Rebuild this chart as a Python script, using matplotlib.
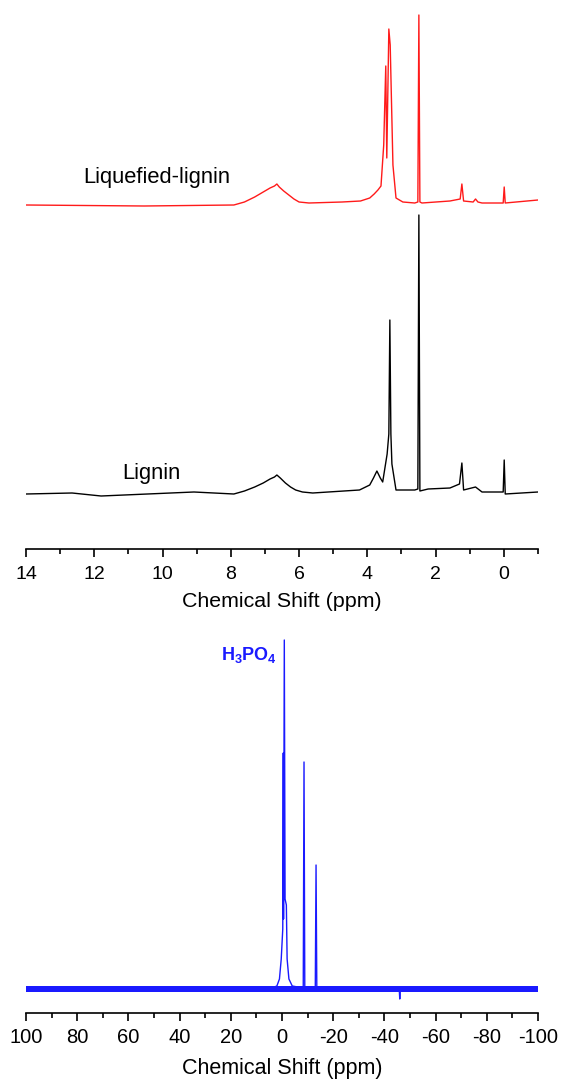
import matplotlib
matplotlib.use("Agg")
import matplotlib.pyplot as plt
from matplotlib.ticker import MultipleLocator

plt.rcParams['font.family'] = ['Liberation Sans', 'DejaVu Sans']
plt.rcParams['mathtext.fontset'] = 'custom'
plt.rcParams['mathtext.rm'] = 'Liberation Sans'
plt.rcParams['mathtext.bf'] = 'Liberation Sans:bold'
plt.rcParams['axes.unicode_minus'] = False

# ---- 1H NMR: liquefied lignin (red) ----
red_ppm = [14.0, 10.54, 7.91, 7.6, 7.3, 7.05, 6.85, 6.72, 6.65, 6.58, 6.45, 6.3, 6.15, 6.0,
           5.71, 4.74, 4.2, 3.93, 3.80, 3.69, 3.60, 3.52, 3.46, 3.43, 3.37, 3.33, 3.25,
           3.16, 2.96, 2.61, 2.52, 2.49, 2.46, 2.40, 1.58, 1.28, 1.23, 1.18, 0.90, 0.83,
           0.76, 0.64, 0.02, -0.01, -0.04, -1.0]
red_int = [0, -1, 0, 3, 8, 13, 17, 19, 21, 18, 14, 10, 6, 3,
           2, 3, 4, 7, 11, 15, 19, 60, 139, 47, 176, 160, 40,
           7, 3, 2, 3, 190, 3, 2, 4, 6, 21, 4, 3, 6,
           3, 2, 2, 18, 2, 5]

# ---- 1H NMR: lignin (black) ----
blk_ppm = [14.0, 12.65, 11.8, 9.08, 7.91, 7.6, 7.3, 7.05, 6.85, 6.72, 6.65, 6.55, 6.4,
           6.25, 6.1, 5.9, 5.6, 4.23, 3.93, 3.82, 3.72, 3.62, 3.55, 3.42, 3.37, 3.34,
           3.31, 3.28, 3.16, 2.61, 2.52, 2.49, 2.46, 2.22, 1.58, 1.30, 1.23, 1.18, 0.83,
           0.64, 0.02, -0.01, -0.04, -1.0]
blk_int = [0, 1, -2, 2, 0, 3, 7, 11, 15, 17, 19, 16, 11,
           7, 4, 2, 1, 4, 9, 16, 23, 16, 12, 40, 60, 174,
           60, 30, 4, 4, 5, 279, 3, 5, 6, 10, 31, 4, 7,
           2, 2, 34, 0, 2]

# ---- 31P NMR (blue) ----
p_ppm = [100.0, 5.0, 2.0, 1.0, 0.3, -0.3, -0.5, -0.6, -0.9, -1.2, -1.7, -2.0, -2.7, -4.0,
         -8.3, -8.6, -8.9, -13.0, -13.3, -13.6, -45.8, -46.0, -46.2, -100.0]
p_int = [0, 0, 3, 10, 30, 60, 236, 70, 349, 90, 84, 30, 10, 3,
         1, 227, 1, 1, 124, 1, 0, -10, 0, 0]
p_noise = 3.2

red_offset = 344
blk_offset = 55

fig = plt.figure(figsize=(5.63, 10.83), dpi=100)
W, H = 563, 1083

def ax_at(x0, x1, ytop, ybot):
    return fig.add_axes([x0 / W, 1 - ybot / H, (x1 - x0) / W, (ybot - ytop) / H])

def style(ax, lsize):
    for s in ['top', 'right', 'left']:
        ax.spines[s].set_visible(False)
    ax.spines['bottom'].set_linewidth(1.2)
    ax.set_yticks([])
    ax.tick_params(axis='x', which='major', direction='out', length=6, width=1.2,
                   labelsize=lsize, pad=6)
    ax.tick_params(axis='x', which='minor', direction='out', length=3.5, width=1.2)

# top panel
ax1 = ax_at(26, 538, 10, 549)
ax1.plot(red_ppm, [v + red_offset for v in red_int], color='#ff1a1a', lw=1.0)
ax1.plot(blk_ppm, [v + blk_offset for v in blk_int], color='black', lw=1.0)
ax1.set_xlim(14, -1)
ax1.set_ylim(0, 539)
ax1.xaxis.set_major_locator(MultipleLocator(2))
ax1.xaxis.set_minor_locator(MultipleLocator(1))
style(ax1, 14)
ax1.set_xlabel('Chemical Shift (ppm)', fontsize=15.4, labelpad=7)
ax1.text(12.33, 372, 'Liquefied-lignin', fontsize=15.8, va='center', ha='left')
ax1.text(11.19, 76, 'Lignin', fontsize=15.8, va='center', ha='left')

# bottom panel
ax2 = ax_at(26, 538, 635, 1013)
base = 24
ax2.fill_between([100, -100], base - p_noise, base + p_noise, color='#1a1aff', lw=0)
ax2.plot(p_ppm, [v + base for v in p_int], color='#1a1aff', lw=1.0)
ax2.set_xlim(100, -100)
ax2.set_ylim(0, 378)
ax2.xaxis.set_major_locator(MultipleLocator(20))
ax2.xaxis.set_minor_locator(MultipleLocator(10))
style(ax2, 14.5)
ax2.tick_params(axis='x', which='major', pad=5)
ax2.set_xlabel('Chemical Shift (ppm)', fontsize=15.5, labelpad=8)
ax2.text(23.8, 358, r'H$_{\mathbf{3}}$PO$_{\mathbf{4}}$', fontsize=13, fontweight='bold',
         color='#1a1aff', va='center', ha='left')

fig.savefig('out.png', dpi=100)
